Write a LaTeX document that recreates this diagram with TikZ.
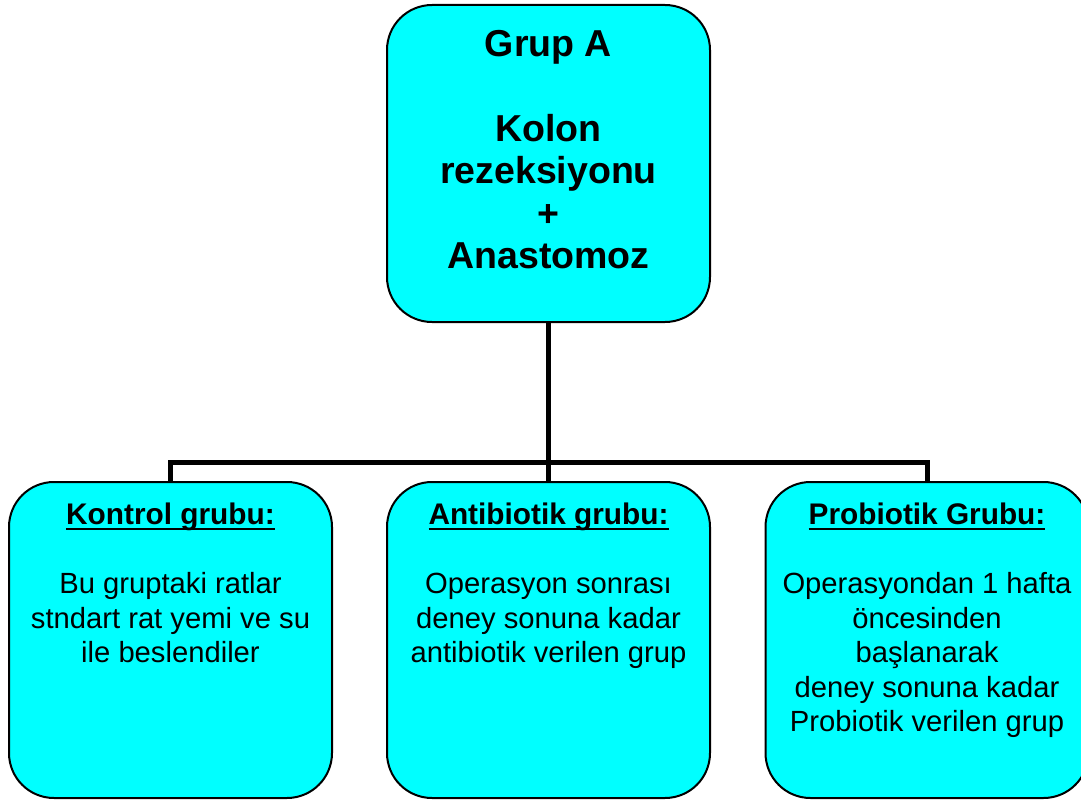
\documentclass[tikz,border=0pt]{standalone}
\usepackage{fontspec}
\setmainfont{Liberation Sans}
\usepackage{tikz}
\usetikzlibrary{positioning}

\definecolor{camgobegi}{RGB}{0,255,255}
\newcommand{\cizili}[1]{\setbox0\hbox{#1}\rlap{\vrule height -3pt depth 5pt width \wd0}\box0}

\begin{document}
\begin{tikzpicture}[x=1pt, y=1pt,
    kutu/.style={draw=black, line width=2pt, fill=camgobegi, rounded corners=45pt,
        minimum width=323pt, minimum height=316pt, inner sep=0pt},
    yazi/.style={align=center, inner sep=0pt, font=\fontsize{29.2}{34.5}\selectfont},
    baglanti/.style={line width=5pt, line join=miter}]
    \useasboundingbox (0,0) rectangle (1081,-800);

    \node[kutu, minimum height=317pt] (grupA) at (548.5,-163.5) {};
    \node[yazi, font=\bfseries\fontsize{37.5}{42.5}\selectfont, below=26pt of grupA.north]
    (grupAyazi) {Grup A\\[42.5pt]Kolon\\rezeksiyonu\\+\\Anastomoz};

    \node[kutu] (kontrol) at (170.5,-640) {};
    \node[kutu] (antibiyotik) at (548.5,-640) {};
    \node[kutu] (probiyotik) at (927,-640) {};

    \node[yazi, below=22pt of kontrol.north] (kontrolyazi)
    {\cizili{\fontsize{29.8}{34.5}\selectfont\textbf{Kontrol grubu:}}\\[34.5pt]Bu gruptaki ratlar\\stndart rat yemi ve su\\ile beslendiler};
    \node[yazi, below=22pt of antibiyotik.north] (antibiyotikyazi)
    {\cizili{\fontsize{29.8}{34.5}\selectfont\textbf{Antibiotik grubu:}}\\[34.5pt]Operasyon sonrası\\deney sonuna kadar\\antibiotik verilen grup};
    \node[yazi, below=22pt of probiyotik.north] (probiyotikyazi)
    {\cizili{\fontsize{29.8}{34.5}\selectfont\textbf{Probiotik Grubu:}}\\[34.5pt]Operasyondan 1 hafta\\öncesinden\\başlanarak\\deney sonuna kadar\\Probiotik verilen grup};

    % baglantilar
    \coordinate (hat) at (548.5,-462);
    \draw[baglanti] (grupA.south) -- (antibiyotik.north);
    \draw[baglanti] (kontrol.north) -- (kontrol.north |- hat) -- (probiyotik.north |- hat) -- (probiyotik.north);
\end{tikzpicture}
\end{document}
